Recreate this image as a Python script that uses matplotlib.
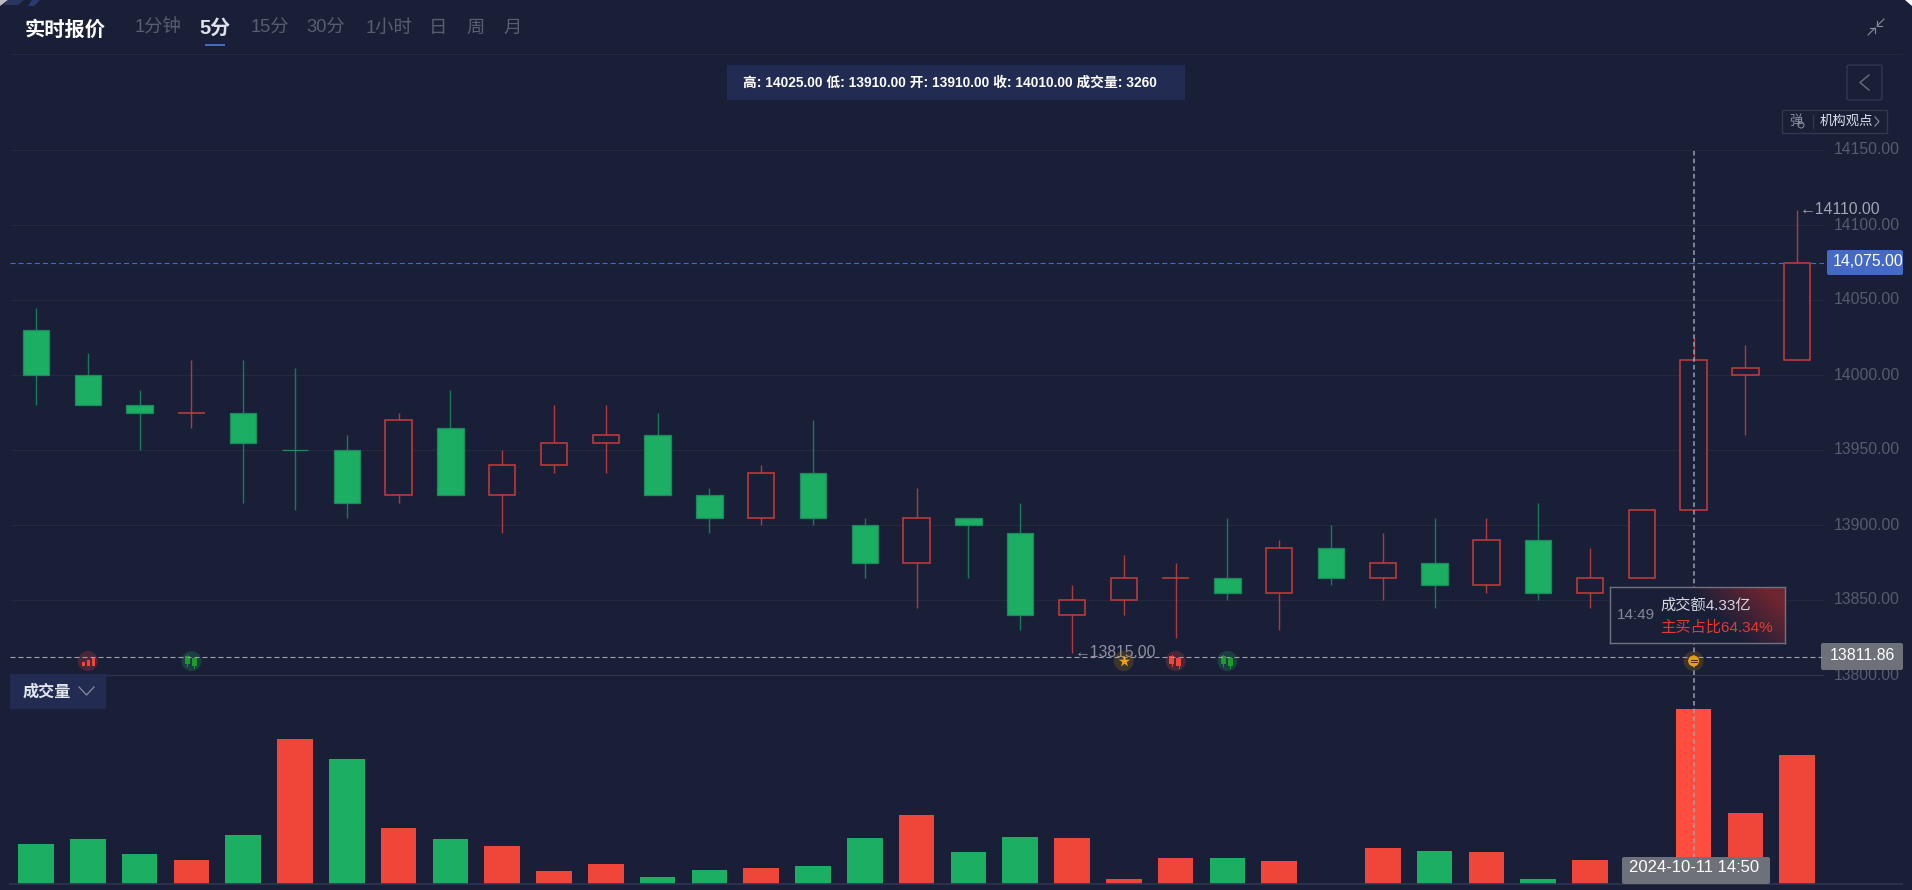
import numpy as np
import matplotlib
matplotlib.use('Agg')
import matplotlib.pyplot as plt
from matplotlib.patches import Rectangle, FancyBboxPatch, Circle

plt.rcParams['font.family'] = ['Liberation Sans', 'Noto Sans CJK SC', 'DejaVu Sans']

# candles
opens = [14030, 14000, 13980, 13975, 13975, 13950, 13950, 13920, 13965, 13920, 13940, 13955,
         13960, 13920, 13905, 13935, 13900, 13875, 13905, 13895, 13840, 13850, 13865, 13865,
         13855, 13885, 13865, 13875, 13860, 13890, 13855, 13865, 13910, 14000, 14010]
closes = [14000, 13980, 13975, 13975, 13955, 13950, 13915, 13970, 13920, 13940, 13955, 13960,
          13920, 13905, 13935, 13905, 13875, 13905, 13900, 13840, 13850, 13865, 13865, 13855,
          13885, 13865, 13875, 13860, 13890, 13855, 13865, 13910, 14010, 14005, 14075]
highs = [14045, 14015, 13990, 14010, 14010, 14005, 13960, 13975, 13990, 13950, 13980, 13980,
         13975, 13925, 13940, 13970, 13905, 13925, 13905, 13915, 13860, 13880, 13875, 13905,
         13890, 13900, 13895, 13905, 13905, 13915, 13885, 13910, 14025, 14020, 14110]
lows = [13980, 13980, 13950, 13965, 13915, 13910, 13905, 13915, 13920, 13895, 13935, 13935,
        13920, 13895, 13900, 13900, 13865, 13845, 13865, 13830, 13815, 13840, 13825, 13850,
        13830, 13860, 13850, 13845, 13855, 13850, 13845, 13865, 13910, 13960, 14010]
candle_dir = list('gggrgggrgrrrggrggrggrrrgrgrgrgrrrrr')
volumes = [746, 840, 560, 453, 914, 2706, 2333, 1045, 840, 709, 248, 379, 131, 267, 304, 336, 853, 1293,
           603, 871, 864, 99, 485, 491, 429, 0, 677, 621, 592, 99, 448, 280, 3260, 1325, 2407]
volume_dir = list('gggrgrgrgrrrggrggrggrrrgrrrgrgrrrrr')
price_ticks = [14150, 14100, 14050, 14000, 13950, 13900, 13850, 13800]
tabs = ['1分钟', '5分', '15分', '30分', '1小时', '日', '周', '月']
tab_x = [158, 215, 270, 326, 389, 438, 476, 513]
last_price = 14075
cross_price = 13811.86
cross_index = 32
icon_index = {'bars': 1, 'candle_g1': 3, 'star': 21, 'candle_r': 22, 'candle_g2': 23, 'coin': 32}

W, H = 1912, 890
BG = '#1a1f38'
GRID = '#242940'
RED = '#ee4639'
RED_HI = '#ff4d40'
RED_EDGE = '#c83c3a'
RED_WICK = '#b03a3a'
GREEN = '#1cae63'
GREEN_EDGE = '#1b8a5c'
GREEN_WICK = '#17795a'
BLUE = '#4569c7'
PANEL = '#222c52'
LABEL = '#6e707a'
X0, DX = 36, 51.8


def axes_px(left, top, right, bottom, **kw):
    return fig.add_axes([left / W, 1 - bottom / H, (right - left) / W, (bottom - top) / H], **kw)


def x_px(i):
    return X0 + DX * i


def y_px(p):
    return 150 + (14150 - p) * 1.5


fig = plt.figure(figsize=(W / 100, H / 100), dpi=100, facecolor=BG)

# price panel
ax = axes_px(10, 150, 1824, 675, facecolor='none')
ax.set_xlim((10 - X0) / DX, (1824 - X0) / DX)
ax.set_ylim(13800, 14150)
ax.axis('off')
ax.hlines(price_ticks[:-1], *ax.get_xlim(), color=GRID, lw=0.8, clip_on=False, zorder=1)
ax.hlines(price_ticks[-1], *ax.get_xlim(), color='#2e3349', lw=1, clip_on=False, zorder=1)
ax.axhline(last_price, color=BLUE, lw=0.8, ls=(0, (4.5, 2.8)), zorder=1.5)
for tick in price_ticks:
    ax.annotate(f'{tick:.2f}', (1, tick), xycoords=('axes fraction', 'data'), xytext=(10, 0),
                textcoords='offset pixels', color='#585b6e', fontsize=11.3, va='center', annotation_clip=False)

xs = np.arange(len(opens))
for i in xs:
    up = candle_dir[i] == 'r'
    ax.vlines(i, lows[i], highs[i], color=RED_WICK if up else GREEN_WICK, lw=1, zorder=2)
    bottom = min(opens[i], closes[i])
    height = abs(closes[i] - opens[i])
    if up:
        ax.bar(i, height, 0.51, bottom, facecolor=BG, edgecolor=RED_EDGE, lw=1.1, zorder=3)
    else:
        ax.bar(i, height, 0.51, bottom, facecolor=GREEN, edgecolor=GREEN_EDGE, lw=0.9, zorder=3)

ax.annotate('←%.2f' % highs[34], (34, highs[34]), xytext=(3, 0), textcoords='offset pixels', color='#a3a5b2',
            fontsize=11.3, va='center', annotation_clip=False, zorder=6)
ax.annotate('←%.2f' % lows[20], (20, lows[20]), xytext=(3, 0), textcoords='offset pixels', color='#8f91a0',
            fontsize=11.3, va='center', annotation_clip=False, zorder=6)

# volume panel
vax = axes_px(10, 680, 1902, 884, facecolor='none')
vax.set_xlim((10 - X0) / DX, (1902 - X0) / DX)
vax.set_ylim(0, 3807)
vax.axis('off')
colors = [GREEN if c == 'g' else RED for c in volume_dir]
colors[cross_index] = RED_HI
vax.bar(xs, volumes, 0.69, color=colors, zorder=2)
vax.axhline(0, color='#2f3450', lw=1.2, zorder=3, clip_on=False)

# everything around the chart, in pixel coordinates
ov = axes_px(0, 0, W, H, facecolor='none')
ov.set_xlim(0, W)
ov.set_ylim(H, 0)
ov.axis('off')
ov.set_zorder(5)

ov.plot([10, 1902], [54, 54], color=GRID, lw=0.8)
ov.fill([0, 8, 0], [0, 0, 6], color='#ffffff', alpha=0.7, lw=0)
ov.fill([8, 24, 18, 4], [0, 0, 5, 5], color='#2a3560', lw=0)
ov.fill([32, 40, 34, 28], [0, 0, 6, 6], color='#2a3a70', lw=0)
ov.fill([1905, W, W], [0, 0, 6], color='#ffffff', lw=0)

ov.text(65, 30, '实时报价', color='white', fontsize=14.6, fontweight='bold', ha='center', va='center')
for name, x in zip(tabs, tab_x):
    active = name == '5分'
    ov.text(x, 28.5, name, color='#dfe1e8' if active else '#5a5d72', fontsize=14.4 if active else 13.2,
            fontweight='bold' if active else 'normal', ha='center', va='center')
ov.add_patch(Rectangle((205, 44), 20, 2, color=BLUE, lw=0))

# compress icon
for tail, head, hook in (((1884, 19), (1877, 26), ((1877, 21), (1882, 26))),
                         ((1868, 35), (1875, 28), ((1875, 33), (1870, 28)))):
    ov.plot([tail[0], head[0]], [tail[1], head[1]], color='#8a8c9a', lw=0.8)
    ov.plot([hook[0][0], head[0], hook[1][0]], [hook[0][1], head[1], hook[1][1]], color='#8a8c9a', lw=0.8)

ov.add_patch(Rectangle((727, 65), 458, 35, color=PANEL, lw=0))
ov.text(950, 83, '高: 14025.00 低: 13910.00 开: 13910.00 收: 14010.00 成交量: 3260', color='white',
        fontsize=9.9, ha='center', va='center', fontweight='bold')

ov.add_patch(FancyBboxPatch((1847, 65), 35, 35, boxstyle='round,pad=0,rounding_size=2', fc='none', ec='#33384f', lw=1))
ov.plot([1869, 1860, 1869], [75, 82.5, 90], color='#6a6d80', lw=1)
ov.add_patch(Rectangle((1782, 110), 105, 23, fc='none', ec='#33384f', lw=1))
ov.text(1796, 122, '弹', color='#8f91a0', fontsize=9.5, ha='center', va='center')
ov.add_patch(Circle((1801, 125), 3, fc=BG, ec='#8f91a0', lw=0.7))
ov.plot([1813, 1813], [115, 128], color='#33384f', lw=1)
ov.text(1846, 121.5, '机构观点', color='#dfe3ee', fontsize=9.6, ha='center', va='center')
ov.plot([1875, 1879, 1875], [117, 121.5, 126], color='#8f91a0', lw=0.8)

ov.add_patch(Rectangle((10, 674), 96, 35, color=PANEL, lw=0))
ov.text(46.5, 692, '成交量', color='#e4e6ee', fontsize=11.6, fontweight='bold', ha='center', va='center')
ov.plot([79, 86.5, 94], [687, 695, 687], color='#8a8c9a', lw=0.9)

# crosshair
cx = x_px(cross_index)
cy = y_px(cross_price)
ov.plot([10, 1822], [cy, cy], color='#9c9eaa', lw=0.8, ls=(0, (4.5, 2.7)))
ov.plot([cx, cx], [151, 860], color='#9c9eaa', lw=1.1, ls=(0, (3, 2)))

# icons on the crosshair level
icon_y = 661


def halo(i, color):
    ov.add_patch(Circle((x_px(i), icon_y), 10, color=color, alpha=0.22, lw=0))


def pair(i, color):
    x = x_px(i)
    for dx, top, bottom in ((-4, -5, 3), (3, -3, 5)):
        ov.plot([x + dx, x + dx], [icon_y + top - 1, icon_y + bottom + 2], color=color, lw=0.7)
        ov.add_patch(Rectangle((x + dx - 2.2, icon_y + top), 4.4, bottom - top, color=color, lw=0))


halo(icon_index['bars'], '#ee4639')
for dx, h in ((-6, 4), (-1, 6), (4, 9)):
    ov.add_patch(Rectangle((x_px(icon_index['bars']) + dx, icon_y + 5 - h), 3, h, color=RED, lw=0))
halo(icon_index['candle_g1'], '#1cae63')
pair(icon_index['candle_g1'], '#1f9a2c')
halo(icon_index['star'], '#b8860b')
ov.scatter([x_px(icon_index['star'])], [icon_y], marker='*', s=75, color='#f0a010', lw=0, zorder=4)
halo(icon_index['candle_r'], '#ee4639')
pair(icon_index['candle_r'], RED)
halo(icon_index['candle_g2'], '#1cae63')
pair(icon_index['candle_g2'], '#1f9a2c')
halo(icon_index['coin'], '#b8860b')
coin_x = x_px(icon_index['coin'])
ov.add_patch(Circle((coin_x, icon_y), 5.5, color='#e89c10', lw=0, zorder=4))
for dy in (-1.2, 1.2):
    ov.plot([coin_x - 3, coin_x + 3], [icon_y + dy, icon_y + dy], color='#3a3020', lw=0.7, zorder=5)

# price tags on the axis
ov.add_patch(FancyBboxPatch((1827, 250), 76, 25, boxstyle='round,pad=0,rounding_size=2', fc=BLUE, ec='none'))
ov.text(1868, 262, '14,075.00', color='white', fontsize=11.4, ha='center', va='center')
ov.add_patch(FancyBboxPatch((1821, 643), 82, 27, boxstyle='round,pad=0,rounding_size=2', fc=LABEL, ec='none'))
ov.text(1862, 655, '13811.86', color='white', fontsize=11.4, ha='center', va='center')
ov.add_patch(FancyBboxPatch((1622, 857), 148, 27, boxstyle='round,pad=0,rounding_size=2', fc=LABEL, ec='none', zorder=4))
ov.text(1694, 868, '2024-10-11 14:50', color='white', fontsize=12, ha='center', va='center', zorder=5)

# tooltip with its red corner
tip = axes_px(1610, 587, 1785, 643)
tip.set_zorder(6)
u, v = np.meshgrid(np.linspace(0, 1, 175), np.linspace(0, 1, 56))
t = np.clip((u - 0.6 + (0.5 - v) * 0.35) / 0.45, 0, 1)[..., None]
bg_rgb = np.array(matplotlib.colors.to_rgb(BG))
tip_rgb = np.array(matplotlib.colors.to_rgb('#6e2630'))
tip.imshow(bg_rgb * (1 - t) + tip_rgb * t, aspect='auto', extent=(0, 1, 0, 1), origin='upper')
tip.set_xticks([])
tip.set_yticks([])
for spine in tip.spines.values():
    spine.set_color('#6f7283')
    spine.set_linewidth(1)
tip.text(26 / 175, 0.5, '14:49', color='#85879a', fontsize=11, ha='center', va='center', transform=tip.transAxes)
tip.text(50 / 175, 0.67, '成交额4.33亿', color='#d6d7de', fontsize=11, va='center', transform=tip.transAxes)
tip.text(50 / 175, 0.27, '主买占比64.34%', color='#e8392f', fontsize=11, va='center', transform=tip.transAxes)

fig.savefig('out.png', dpi=100, facecolor=BG)
